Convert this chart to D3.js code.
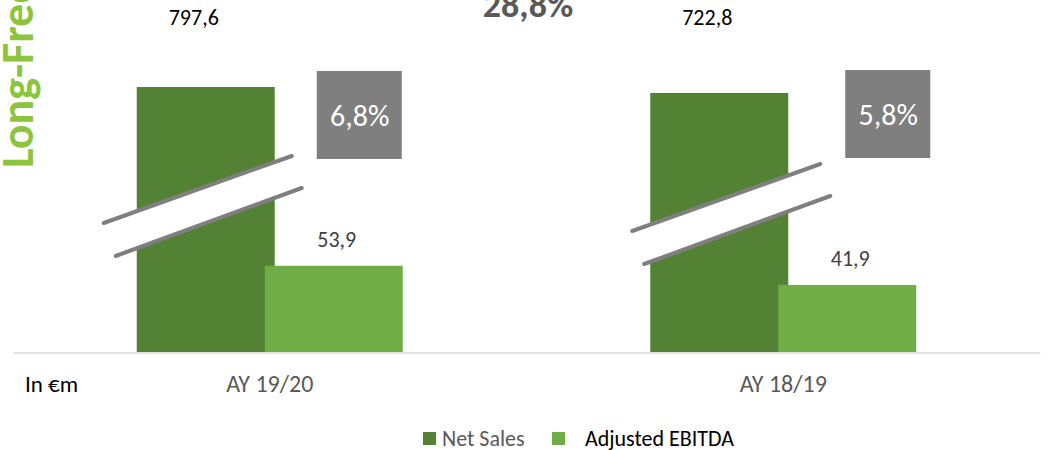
<!DOCTYPE html>
<html>
<head>
<meta charset="utf-8">
<script src="https://cdn.jsdelivr.net/npm/d3@7"></script>
<style>
  body { margin: 0; background: #fff; }
  text { font-family: Carlito, Lato, "Open Sans", sans-serif; }
</style>
</head>
<body>
<div id="chart"></div>
<script>
// chart data
var categories = ["AY 19/20", "AY 18/19"];
var netSales = [797.6, 722.8];
var adjEbitda = [53.9, 41.9];
var ebitdaMargin = [6.8, 5.8];
var ebitdaGrowth = 28.8;
var seriesNames = ["Net Sales", "Adjusted EBITDA"];
var unitLabel = "In €m";
var titleText = "Long-Free";

var width = 1048, height = 450;
var base = 352;
var fmt = function(v) { return d3.format(".1f")(v).replace(".", ","); };

var svg = d3.select("#chart")
  .append("svg")
  .attr("width", width)
  .attr("height", height);

var x = d3.scaleBand().domain(categories).range([13, 1040]);
// ebitda scale, normal
var yE = d3.scaleLinear().domain([0, 60]).range([base, base - 96]);
// net sales drawn on a broken (compressed) axis
var yS = d3.scaleLinear().domain([700, 800]).range([94.8, 86.8]);

var dark = "#548235", light = "#70ad47", grey = "#7f7f7f";
var barW = 138;
function cx(i) { return x(categories[i]) + x.bandwidth() / 2; }
// manual nudges for the hand placed annotations
var shift = [[0, 0], [15, 8]];

// axis line
svg.append("g")
  .attr("transform", `translate(0,${base + 0.5})`)
  .call(d3.axisBottom(x).tickSize(0).tickPadding(0).tickFormat(""))
  .call(g => g.select(".domain").attr("stroke", "#d9d9d9").attr("stroke-width", 1.5));

// net sales bars
svg.selectAll(".sales")
  .data(netSales)
  .enter().append("rect")
  .attr("class", "sales")
  .attr("x", (d, i) => cx(i) - 133)
  .attr("y", d => yS(d))
  .attr("width", barW)
  .attr("height", d => base - yS(d))
  .attr("fill", dark);

// ebitda bars
svg.selectAll(".ebitda")
  .data(adjEbitda)
  .enter().append("rect")
  .attr("class", "ebitda")
  .attr("x", (d, i) => cx(i) - 5)
  .attr("y", d => yE(d))
  .attr("width", barW)
  .attr("height", d => base - yE(d))
  .attr("fill", light);

// axis break marks
netSales.forEach(function(d, i) {
  var c = cx(i) + shift[i][0], dy = shift[i][1];
  var p1 = [c - 166, 223 + dy], p2 = [c + 22, 156 + dy];
  var p3 = [c + 32, 188 + dy], p4 = [c - 154, 256 + dy];
  svg.append("polygon")
    .attr("points", [p1, p2, p3, p4].map(p => p.join(",")).join(" "))
    .attr("fill", "#fff");
  [[p1, p2], [p4, p3]].forEach(function(l) {
    svg.append("line")
      .attr("x1", l[0][0]).attr("y1", l[0][1])
      .attr("x2", l[1][0]).attr("y2", l[1][1])
      .attr("stroke", grey)
      .attr("stroke-width", 4)
      .attr("stroke-linecap", "round");
  });
});

// margin boxes
ebitdaMargin.forEach(function(d, i) {
  var bx = cx(i) + 47 + shift[i][0], by = 71 - (i ? 1 : 0);
  svg.append("rect")
    .attr("x", bx).attr("y", by)
    .attr("width", 85).attr("height", 88)
    .attr("fill", grey);
  svg.append("text")
    .attr("x", bx + 43).attr("y", by + 55)
    .attr("text-anchor", "middle")
    .attr("fill", "#fff")
    .style("font-size", "30px")
    .text(fmt(d) + "%");
});

// value labels
svg.selectAll(".salesLabel")
  .data(netSales)
  .enter().append("text")
  .attr("x", (d, i) => cx(i) - 76)
  .attr("y", 25)
  .attr("text-anchor", "middle")
  .attr("fill", "#000")
  .style("font-size", "22px")
  .text(d => fmt(d));

svg.selectAll(".ebitdaLabel")
  .data(adjEbitda)
  .enter().append("text")
  .attr("x", (d, i) => cx(i) + 67)
  .attr("y", d => yE(d) - 19)
  .attr("text-anchor", "middle")
  .attr("fill", "#404040")
  .style("font-size", "22px")
  .text(d => fmt(d));

// growth figure
svg.append("text")
  .attr("x", 528).attr("y", 17)
  .attr("text-anchor", "middle")
  .attr("fill", "#595959")
  .style("font-size", "36px")
  .style("font-weight", "bold")
  .text(fmt(ebitdaGrowth) + "%");

// side title
svg.append("text")
  .attr("transform", "translate(33,168) rotate(-90)")
  .attr("fill", "#8cc43e")
  .style("font-size", "46px")
  .style("font-weight", "bold")
  .text(titleText);

// category labels
svg.selectAll(".cat")
  .data(categories)
  .enter().append("text")
  .attr("x", (d, i) => cx(i))
  .attr("y", 392)
  .attr("text-anchor", "middle")
  .attr("fill", "#595959")
  .style("font-size", "24px")
  .text(d => d);

svg.append("text")
  .attr("x", 25).attr("y", 392)
  .attr("fill", "#000")
  .style("font-size", "23px")
  .text(unitLabel);

// legend
var legend = svg.selectAll(".legend")
  .data(seriesNames)
  .enter().append("g")
  .attr("class", "legend")
  .attr("transform", (d, i) => `translate(${i ? 552 : 423},432)`);

legend.append("rect")
  .attr("width", 13)
  .attr("height", 13)
  .attr("fill", (d, i) => i ? light : dark);

legend.append("text")
  .attr("x", (d, i) => i ? 33 : 19)
  .attr("y", 14)
  .attr("fill", (d, i) => i ? "#000" : "#595959")
  .style("font-size", "22px")
  .text(d => d);
</script>
</body>
</html>
